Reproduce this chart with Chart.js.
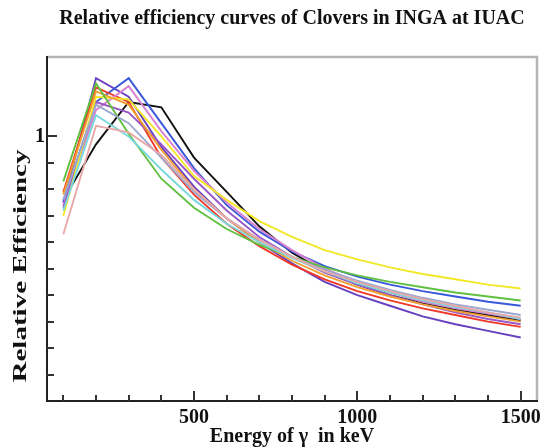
<!DOCTYPE html>
<html>
<head>
<meta charset="utf-8">
<script src="https://cdn.jsdelivr.net/npm/chart.js@4/dist/chart.umd.min.js"></script>
<style>
  html, body { margin: 0; padding: 0; background: #fff; }
  #wrap { width: 542px; height: 447px; }
</style>
</head>
<body>
<div id="wrap"><canvas id="effChart" width="542" height="447"></canvas></div>
<script>
// energies in keV
const energies = [100, 200, 300, 400, 500, 600, 700, 800, 900, 1000, 1100, 1200, 1300, 1400, 1500];

// relative efficiency of each clover
const effBlack  = [0.76, 0.97, 1.13, 1.11, 0.92, 0.79, 0.66, 0.56, 0.49, 0.44, 0.40, 0.37, 0.345, 0.325, 0.305];
const effBlue   = [0.75, 1.13, 1.22, 1.05, 0.88, 0.74, 0.64, 0.565, 0.51, 0.47, 0.44, 0.415, 0.395, 0.375, 0.36];
const effGreen  = [0.83, 1.20, 1.01, 0.84, 0.73, 0.65, 0.59, 0.545, 0.505, 0.475, 0.45, 0.43, 0.41, 0.395, 0.38];
const effYellow = [0.70, 1.15, 1.14, 1.00, 0.85, 0.76, 0.68, 0.62, 0.57, 0.535, 0.505, 0.48, 0.46, 0.44, 0.425];
const effRed    = [0.79, 1.185, 1.13, 0.92, 0.78, 0.67, 0.585, 0.515, 0.46, 0.415, 0.38, 0.35, 0.325, 0.30, 0.28];
const effViolet = [0.75, 1.22, 1.15, 0.96, 0.81, 0.69, 0.60, 0.52, 0.45, 0.40, 0.36, 0.32, 0.29, 0.265, 0.24];
const effOrchid = [0.74, 1.10, 1.19, 1.02, 0.87, 0.75, 0.65, 0.57, 0.50, 0.45, 0.41, 0.375, 0.35, 0.33, 0.31];
const effPurple = [0.73, 1.13, 1.09, 0.97, 0.84, 0.72, 0.62, 0.545, 0.485, 0.44, 0.40, 0.365, 0.335, 0.31, 0.29];
const effCyan   = [0.72, 1.08, 1.00, 0.875, 0.76, 0.67, 0.60, 0.54, 0.49, 0.445, 0.41, 0.38, 0.355, 0.335, 0.31];
const effSalmon = [0.63, 1.04, 1.015, 0.93, 0.80, 0.69, 0.61, 0.545, 0.49, 0.45, 0.415, 0.385, 0.36, 0.335, 0.315];
const effOrange = [0.78, 1.17, 1.12, 0.95, 0.80, 0.69, 0.60, 0.53, 0.475, 0.43, 0.395, 0.365, 0.34, 0.32, 0.30];
const effSlate  = [0.76, 1.12, 1.05, 0.92, 0.79, 0.69, 0.61, 0.545, 0.495, 0.455, 0.42, 0.39, 0.365, 0.345, 0.325];

// axis ticks
const xMinorTicks = [100, 200, 300, 400, 600, 700, 800, 900, 1100, 1200, 1300, 1400];
const xMajorTicks = [500, 1000, 1500];
const yMinorTicks = [0.1, 0.2, 0.3, 0.4, 0.5, 0.6, 0.7, 0.8, 0.9];
const yMajorTicks = [1];

const serif = '"Liberation Serif", "DejaVu Serif", serif';

function series(label, values, color) {
    return {
        label: label,
        data: energies.map((e, i) => ({ x: e, y: values[i] })),
        borderColor: color,
        borderWidth: 1.9,
        pointRadius: 0,
        tension: 0,
        fill: false
    };
}

// draws frame, inward ticks, tick labels and titles like the xmgrace original
const framePlugin = {
    id: 'frame',
    afterDraw(chart) {
        const ctx = chart.ctx;
        const a = chart.chartArea;
        const xs = chart.scales.x, ys = chart.scales.y;
        ctx.save();

        // grey top / right frame
        ctx.strokeStyle = '#b4b4b4';
        ctx.lineWidth = 2.5;
        ctx.beginPath();
        ctx.moveTo(a.left, a.top);
        ctx.lineTo(a.right, a.top);
        ctx.lineTo(a.right, a.bottom);
        ctx.stroke();

        // black left / bottom axes
        ctx.strokeStyle = '#222';
        ctx.lineWidth = 2;
        ctx.beginPath();
        ctx.moveTo(a.left, a.top - 1);
        ctx.lineTo(a.left, a.bottom);
        ctx.lineTo(a.right + 1, a.bottom);
        ctx.stroke();

        ctx.strokeStyle = '#333';
        ctx.lineWidth = 2;
        ctx.beginPath();
        xMinorTicks.forEach(v => {
            const px = Math.round(xs.getPixelForValue(v));
            ctx.moveTo(px, a.bottom); ctx.lineTo(px, a.bottom - 6);
        });
        xMajorTicks.forEach(v => {
            const px = Math.round(xs.getPixelForValue(v));
            ctx.moveTo(px, a.bottom); ctx.lineTo(px, a.bottom - 10);
        });
        yMinorTicks.forEach(v => {
            const py = Math.round(ys.getPixelForValue(v));
            ctx.moveTo(a.left, py); ctx.lineTo(a.left + 7, py);
        });
        yMajorTicks.forEach(v => {
            const py = Math.round(ys.getPixelForValue(v));
            ctx.moveTo(a.left, py); ctx.lineTo(a.left + 10, py);
        });
        ctx.stroke();

        ctx.fillStyle = '#111';
        ctx.font = 'bold 20px ' + serif;
        ctx.textAlign = 'center';
        ctx.textBaseline = 'middle';
        xMajorTicks.forEach(v => {
            ctx.fillText(String(v), xs.getPixelForValue(v), a.bottom + 17);
        });
        ctx.textAlign = 'right';
        yMajorTicks.forEach(v => {
            ctx.fillText(String(v), a.left - 2, ys.getPixelForValue(v));
        });

        // axis titles
        ctx.textAlign = 'center';
        ctx.font = 'bold 20px ' + serif;
        ctx.fillText('Energy of \u03b3  in keV', 292, 437);

        // y title is stretched along its length in the original
        const yTitle = 'Relative Efficiency';
        ctx.font = 'bold 18px ' + serif;
        const stretch = 233 / ctx.measureText(yTitle).width;
        ctx.save();
        ctx.translate(21, 266);
        ctx.rotate(-Math.PI / 2);
        ctx.scale(stretch, 1);
        ctx.fillText(yTitle, 0, 0);
        ctx.restore();

        // chart title
        ctx.font = 'bold 20px ' + serif;
        ctx.save();
        ctx.translate(292, 18);
        ctx.scale(1, 1.1);
        ctx.fillText('Relative efficiency curves of Clovers in INGA at IUAC', 0, 0);
        ctx.restore();
        ctx.restore();
    }
};

new Chart(document.getElementById('effChart').getContext('2d'), {
    type: 'line',
    data: {
        datasets: [
            series('Clover 1', effSalmon, '#e8a8a8'),
            series('Clover 2', effCyan, '#78d8dc'),
            series('Clover 3', effSlate, '#9aa8d0'),
            series('Clover 4', effGreen, '#60c040'),
            series('Clover 5', effOrange, '#f0a030'),
            series('Clover 6', effYellow, '#f2e828'),
            series('Clover 7', effPurple, '#9858c8'),
            series('Clover 8', effOrchid, '#d880d0'),
            series('Clover 9', effRed, '#f03828'),
            series('Clover 10', effBlue, '#3858d8'),
            series('Clover 11', effViolet, '#6840c0'),
            series('Clover 12', effBlack, '#111111')
        ]
    },
    options: {
        responsive: false,
        animation: false,
        layout: { padding: { left: 47, top: 57, right: 5, bottom: 46 } },
        plugins: {
            legend: { display: false },
            title: { display: false },
            tooltip: { enabled: false }
        },
        scales: {
            x: { type: 'linear', min: 50, max: 1550, display: false },
            y: { type: 'linear', min: 0, max: 1.3, display: false }
        }
    },
    plugins: [framePlugin]
});
</script>
</body>
</html>
